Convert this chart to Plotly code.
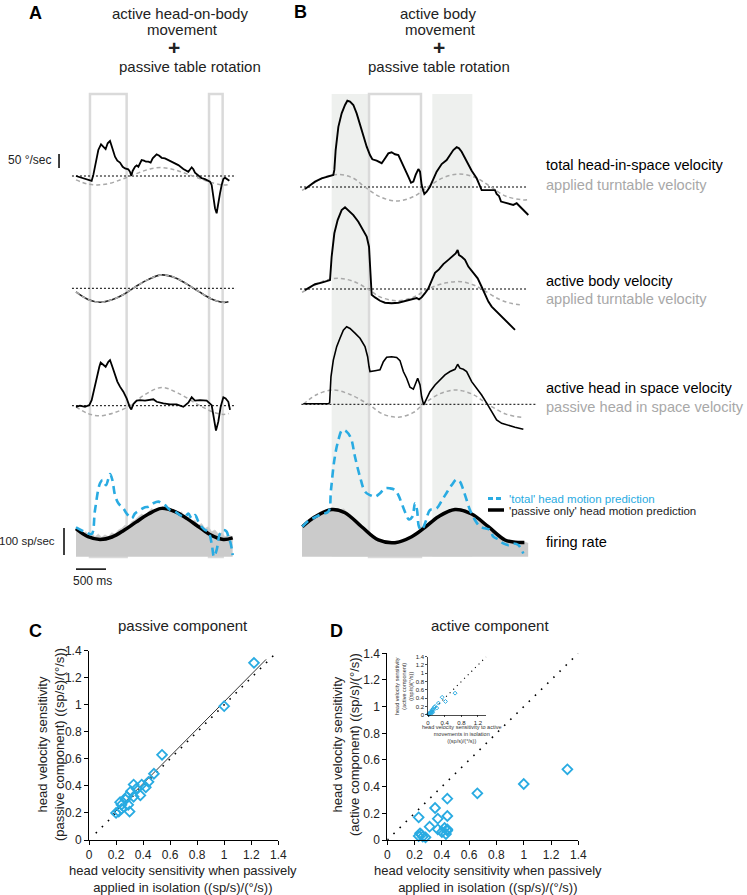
import plotly.graph_objects as go

W, H = 747, 895
FONT = "Liberation Sans, Arial, Helvetica, sans-serif"
BLUE = "#29abe2"
GREY_TXT = "#a8a8a8"
GREY_DASH = "#a9a9a9"
FILL = "#cbcbcb"
BOXLINE = "#dadada"
SHADE = "#eef0ee"

# ---------------- Panel A data (time ms, velocity deg/s, firing sp/s) ----------------
A_TOTAL_T = [0, 122, 206, 261, 289, 333, 372, 417, 456, 494, 528, 567, 606, 650, 689, 733, 778, 817, 872, 900,
             922, 944, 983, 1011, 1039, 1067, 1094, 1133, 1167, 1206, 1244, 1278, 1317, 1344, 1383, 1428, 1483,
             1539, 1622, 1706, 1789, 1872, 1928, 1956, 1983, 2039, 2094, 2150, 2189, 2233, 2261, 2289, 2317,
             2344, 2372, 2400, 2428, 2456, 2483, 2522, 2556]
A_TOTAL_V = [0, -8, -14, -17, 4, 57, 93, 113, 105, 96, 117, 125, 99, 69, 55, 48, 33, 27, 24, 15,
             1, 18, 33, 38, 33, 48, 57, 55, 51, 51, 48, 63, 71, 77, 73, 65, 63,
             57, 48, 39, 25, 15, 31, 24, 12, 0, -8, -11, -14, -20, -32, -74, -115,
             -133, -104, -62, -32, -11, -6, -12, -17]
A_TABLE1_T = [0, 180, 360, 550, 750, 900, 1100, 1250, 1410, 1570, 1720, 1920, 2100, 2300, 2460, 2560]
A_TABLE1_V = [-14, -28, -32, -27, -13, -1, 16, 26, 30, 26, 17, 2, -12, -26, -32, -30]
A_BODY_T = [0, 200, 400, 600, 800, 1000, 1200, 1428, 1650, 1850, 2050, 2250, 2456, 2540]
A_BODY_V = [-13, -40, -50, -41, -21, 7, 31, 48, 38, 15, -12, -37, -50, -48]
A_HEAD_T = [0, 67, 150, 222, 261, 300, 344, 389, 411, 456, 494, 539, 567, 606, 650, 689, 733, 789, 844, 872,
            900, 922, 956, 1011, 1067, 1150, 1233, 1289, 1344, 1456, 1567, 1678, 1789, 1872, 1928,
            1983, 2067, 2178, 2261, 2300, 2333, 2372, 2411, 2456, 2494, 2539, 2567]
A_HEAD_V = [-4, 0, -4, 2, 20, 56, 104, 139, 154, 145, 139, 157, 163, 139, 110, 86, 68, 50, 26, 8,
            -7, -13, 6, 18, 20, 18, 20, 23, 14, 8, 5, 5, -4, 11, 30,
            18, 20, 18, 2, -51, -89, -57, -4, 30, 26, 14, -15]
A_PHEAD_T = [0, 200, 400, 650, 900, 1150, 1430, 1700, 2067, 2300, 2456, 2550]
A_PHEAD_V = [-4, -28, -36, -24, 0, 40, 65, 45, 0, -24, -31, -28]
A_FR_T = [0, 39, 78, 122, 167, 206, 261, 317, 372, 428, 483, 539, 594, 650, 706, 761, 817, 872, 928, 983,
          1039, 1094, 1150, 1206, 1261, 1317, 1372, 1428, 1483, 1539, 1594, 1650, 1706, 1761, 1817,
          1872, 1928, 1983, 2039, 2094, 2150, 2206, 2261, 2317, 2372, 2428, 2483, 2539, 2611]
A_FR = [109, 86, 99, 84, 93, 77, 89, 74, 84, 72, 81, 74, 89, 84, 99, 105, 117, 111, 130, 136,
        148, 158, 151, 167, 179, 169, 183, 173, 179, 167, 175, 160, 154, 167, 142,
        148, 130, 136, 117, 123, 105, 111, 93, 99, 84, 89, 74, 80, 74]
A_PASS_T = [0, 200, 400, 600, 800, 1000, 1200, 1428, 1650, 1850, 2050, 2250, 2456, 2611]
A_PASS = [104, 74, 64, 73, 98, 128, 157, 179, 167, 141, 110, 80, 64, 70]
A_TOT_T = [0, 178, 261, 317, 400, 444, 500, 567, 606, 650, 706, 789, 844, 928, 983, 1067, 1150, 1206, 1289,
           1372, 1428, 1483, 1567, 1650, 1733, 1817, 1872, 1928, 1983, 2039, 2094, 2150, 2206, 2261,
           2300, 2344, 2400, 2456, 2511, 2539, 2578, 2611]
A_TOT = [109, 89, 84, 173, 272, 284, 265, 306, 284, 228, 198, 179, 160, 142, 160, 173, 183, 185, 198,
         204, 198, 191, 173, 167, 154, 148, 160, 142, 154, 130, 111, 99, 93, 49,
         0, 25, 86, 99, 93, 74, 49, 6]
A_BOXES = [[233, 844], [2217, 2444]]
A_BASE_T = [-67, 2667]

# ---------------- Panel B data ----------------
B_TOTAL_T = [50, 133, 217, 328, 439, 522, 539, 561, 606, 661, 717, 756, 800, 856, 911, 967, 1022, 1078, 1133,
             1172, 1244, 1328, 1383, 1439, 1494, 1550, 1606, 1661, 1717, 1772, 1817, 1856, 1894, 1939, 1967,
             1994, 2039, 2078, 2133, 2189, 2244, 2328, 2411, 2467, 2522, 2578, 2617, 2661, 2717, 2772,
             2828, 2911, 2956, 2994, 3078, 3161, 3217, 3244, 3283, 3317, 3383, 3467, 3522, 3578, 3633,
             3706, 3772]
B_TOTAL_V = [-7, 7, 19, 31, 37, 43, 61, 132, 215, 263, 293, 308, 305, 293, 263, 221, 180, 144, 114,
             99, 94, 85, 102, 120, 124, 117, 114, 90, 67, 37, 15, 19, 43, 64, 55,
             7, -25, -17, 1, 31, 55, 82, 96, 114, 132, 142, 138, 126, 102, 79,
             58, 31, 7, -11, -11, -11, -11, -25, -32, -52, -56, -61, -64, -58, -70,
             -85, -100]
B_TABLE1_T = [0, 100, 350, 600, 850, 1050, 1300, 1578, 1850, 2100, 2350, 2620, 2900, 3150, 3400, 3689, 3770]
B_TABLE1_V = [-12, 0, 33, 45, 32, 0, -35, -50, -35, 0, 33, 46, 33, 0, -33, -46, -45]
B_BODY_T = [50, 133, 217, 328, 439, 467, 494, 539, 594, 661, 717, 772, 856, 939, 1022, 1078, 1117, 1139,
            1161, 1217, 1300, 1383, 1494, 1606, 1717, 1828, 1911, 1950, 1994, 2050, 2106, 2161, 2217,
            2283, 2356, 2439, 2522, 2561, 2594, 2617, 2661, 2717, 2772, 2856, 2928, 2994, 3050, 3106,
            3161, 3217, 3300, 3383, 3470, 3550]
B_BODY_V = [-4, 8, 17, 23, 29, 32, 115, 199, 246, 282, 292, 282, 264, 240, 211, 187, 151, 44,
            -21, -30, -42, -49, -51, -49, -42, -37, -32, -37, -30, -15, 2, 30, 58,
            70, 89, 104, 118, 127, 139, 121, 115, 104, 80, 58, 38, 8, -21, -45,
            -63, -75, -92, -108, -128, -146]
B_TABLE2_T = [0, 100, 350, 600, 850, 1100, 1300, 1578, 1850, 2100, 2400, 2650, 2850, 2994, 3300, 3500, 3680]
B_TABLE2_V = [-12, 0, 28, 38, 28, 0, -28, -42, -30, 0, 22, 26, 15, 0, -38, -52, -57]
B_HEAD_T = [22, 217, 439, 461, 483, 522, 578, 633, 689, 744, 800, 883, 967, 1050, 1094, 1117, 1133, 1217,
            1300, 1356, 1411, 1494, 1578, 1633, 1689, 1744, 1800, 1856, 1894, 1928, 1967, 1994, 2028,
            2078, 2133, 2217, 2300, 2383, 2467, 2550, 2594, 2633, 2689, 2744, 2828, 2911, 2994, 3078,
            3161, 3244, 3328, 3439, 3550, 3689]
B_HEAD_V = [2, 2, 2, 6, 99, 158, 206, 236, 265, 277, 271, 254, 236, 206, 170, 135, 117, 120,
            123, 152, 168, 170, 167, 156, 117, 93, 61, 54, 73, 93, 69, 27, -2,
            21, 45, 69, 87, 105, 117, 125, 143, 129, 125, 117, 81, 57, 33, 4,
            -26, -56, -68, -76, -82, -89]
B_PHEAD_T = [22, 250, 522, 800, 1106, 1350, 1606, 1850, 2022, 2300, 2578, 2850, 3100, 3400, 3661, 3700]
B_PHEAD_V = [0, 35, 51, 35, 0, -35, -46, -30, 0, 38, 51, 35, 0, -35, -46, -46]
B_FR_T = [0, 100, 200, 300, 400, 500, 600, 700, 800, 900, 1000, 1100, 1200, 1300, 1400, 1500, 1600, 1700,
          1800, 1900, 2000, 2100, 2200, 2300, 2400, 2500, 2600, 2700, 2800, 2900, 3000, 3100, 3200,
          3300, 3400, 3500, 3600, 3700, 3770]
B_FR = [108, 125, 140, 160, 172, 180, 170, 178, 150, 135, 115, 92, 75, 62, 58, 55, 60, 55,
        68, 85, 100, 122, 140, 155, 168, 172, 175, 165, 158, 140, 125, 110, 90,
        75, 62, 58, 52, 55, 50]
B_PASS_T = [6, 217, 494, 717, 994, 1272, 1550, 1828, 2050, 2272, 2550, 2828, 3106, 3383, 3550, 3706]
B_PASS = [111, 148, 175, 163, 111, 62, 52, 74, 109, 148, 175, 158, 111, 62, 54, 53]
B_TOT_T = [6, 106, 217, 328, 439, 483, 539, 606, 672, 744, 817, 883, 967, 1050, 1133, 1217, 1300, 1383,
           1467, 1550, 1606, 1661, 1728, 1783, 1839, 1883, 1917, 1950, 1994, 2061, 2133, 2244, 2328,
           2411, 2494, 2578, 2633, 2689, 2744, 2800, 2883, 2967, 3050, 3133, 3189, 3272, 3356, 3439,
           3522, 3606, 3689]
B_TOT = [111, 133, 146, 158, 167, 247, 358, 432, 469, 463, 438, 370, 296, 241, 228, 222, 235, 253,
         253, 247, 228, 198, 160, 138, 148, 198, 173, 111, 99, 130, 173, 179, 207,
         237, 265, 286, 278, 247, 210, 173, 136, 111, 105, 99, 74, 64, 49, 43,
         49, 43, 12]
B_SHADES = [[494, 1117], [2172, 2839]]
B_BOXES = [[1117, 1983]]
B_BASE_T = [-33, 3750]
B_BASE3_T = [-10, 3890]

# ---------------- Panels C, D ----------------
C_X = [1.22, 1.00, 0.54, 0.48, 0.44, 0.42, 0.39, 0.38, 0.35, 0.33, 0.33, 0.31, 0.28, 0.27, 0.29, 0.30,
       0.24, 0.23, 0.22, 0.24, 0.20]
C_Y = [1.31, 0.99, 0.63, 0.49, 0.43, 0.39, 0.41, 0.33, 0.38, 0.41, 0.32, 0.36, 0.32, 0.30, 0.26, 0.21,
       0.26, 0.28, 0.21, 0.23, 0.20]
C_FIT_X = [0.17, 1.31]
C_FIT_Y = [0.185, 1.336]
C_UNITY = [0.05, 1.37]

D_X = [1.32, 1.00, 0.66, 0.44, 0.44, 0.35, 0.37, 0.31, 0.23, 0.37, 0.42, 0.44, 0.40, 0.43, 0.24, 0.25,
       0.26, 0.28, 0.23, 0.44]
D_Y = [0.53, 0.42, 0.35, 0.31, 0.18, 0.24, 0.16, 0.10, 0.17, 0.08, 0.09, 0.08, 0.06, 0.045, 0.05, 0.04,
       0.025, 0.02, 0.03, 0.07]
D_UNITY = [0.0, 1.4]

IN_X = [0.65, 0.42, 0.34, 0.25, 0.21, 0.17, 0.13, 0.12, 0.09, 0.08, 0.06, 0.05, 0.04, 0.03, 0.03, 0.02,
        0.02, 0.10, 0.15, 0.07, 0.11]
IN_Y = [0.52, 0.32, 0.42, 0.28, 0.16, 0.20, 0.14, 0.10, 0.08, 0.05, 0.06, 0.04, 0.03, 0.03, 0.01, 0.02,
        0.01, 0.12, 0.18, 0.07, 0.05]
IN_UNITY = [0.0, 1.4]

SCALE_VEL = 50      # deg/s
SCALE_FR = 100      # sp/s
SCALE_T = 500       # ms
MAIN_TICKS = [0, 0.2, 0.4, 0.6, 0.8, 1.0, 1.2, 1.4]
MAIN_TICKTEXT = ["0", "0.2", "0.4", "0.6", "0.8", "1", "1.2", "1.4"]
IN_XTICKS = [0, 0.4, 0.8, 1.2]
IN_XTICKTEXT = ["0", "0.4", "0.8", "1.2"]

# ---------------- layout geometry (pixels) ----------------
V_K = 0.28   # px per deg/s
R_K = 0.27   # px per sp/s
T_K = 0.06   # px per ms


def fx(p):
    return p / W


def fy(p):
    return 1 - p / H


fig = go.Figure()
layout = {}


def time_axis(name, left, right, t0, anchor):
    layout[name] = dict(domain=[fx(left), fx(right)], range=[(left - t0) / T_K, (right - t0) / T_K],
                        visible=False, anchor=anchor, fixedrange=True)


def band_axis(name, base, top, bot, k, anchor):
    layout[name] = dict(domain=[fy(bot), fy(top)], range=[(base - bot) / k, (base - top) / k],
                        visible=False, anchor=anchor, fixedrange=True)


time_axis("xaxis", 0, 245, 76, "y")
time_axis("xaxis2", 295, 542, 302, "y5")
band_axis("yaxis", 176, 88, 235, V_K, "x")
band_axis("yaxis2", 288.3, 230, 330, V_K, "x")
band_axis("yaxis3", 405.7, 330, 455, V_K, "x")
band_axis("yaxis4", 556.7, 455, 600, R_K, "x")
band_axis("yaxis5", 187, 88, 240, V_K, "x2")
band_axis("yaxis6", 289, 190, 345, V_K, "x2")
band_axis("yaxis7", 404.3, 315, 455, V_K, "x2")
band_axis("yaxis8", 556.7, 420, 600, R_K, "x2")


def add_line(t, v, xa, ya, color, width, dash=None, shape="linear"):
    fig.add_trace(go.Scatter(x=t, y=v, xaxis=xa, yaxis=ya, mode="lines",
                             line=dict(color=color, width=width, dash=dash, shape=shape),
                             hoverinfo="skip", showlegend=False))


def add_fill(t, v, xa, ya):
    fig.add_trace(go.Scatter(x=t, y=v, xaxis=xa, yaxis=ya, mode="lines", fill="tozeroy",
                             fillcolor=FILL, line=dict(color=FILL, width=0.5),
                             hoverinfo="skip", showlegend=False))


DOT = "2px,2px"
GDASH = "4px,3px"
BDASH = "8px,5px"

# Panel A traces
add_line(A_BASE_T, [0, 0], "x", "y", "black", 1, DOT)
add_line(A_TABLE1_T, A_TABLE1_V, "x", "y", GREY_DASH, 1.5, GDASH, "spline")
add_line(A_TOTAL_T, A_TOTAL_V, "x", "y", "black", 1.8)
add_line(A_BASE_T, [0, 0], "x", "y2", "black", 1, DOT)
add_line(A_BODY_T, A_BODY_V, "x", "y2", "#222222", 1.6, None, "spline")
add_line(A_BODY_T, A_BODY_V, "x", "y2", GREY_DASH, 1.6, GDASH, "spline")
add_line(A_BASE_T, [0, 0], "x", "y3", "black", 1, DOT)
add_line(A_PHEAD_T, A_PHEAD_V, "x", "y3", GREY_DASH, 1.5, GDASH, "spline")
add_line(A_HEAD_T, A_HEAD_V, "x", "y3", "black", 1.8)
add_fill(A_FR_T, A_FR, "x", "y4")
add_line(A_PASS_T, A_PASS, "x", "y4", "black", 3.5, None, "spline")
add_line(A_TOT_T, A_TOT, "x", "y4", BLUE, 2.6, BDASH, "spline")
# scale bars
add_line([-283, -283], [29, 29 + SCALE_VEL], "x", "y", "black", 1.5)
add_line([-200, -200], [6, 6 + SCALE_FR], "x", "y4", "black", 1.5)
add_line([0, SCALE_T], [-46, -46], "x", "y4", "black", 1.5)

# Panel B traces
add_line(B_BASE_T, [0, 0], "x2", "y5", "black", 1, DOT)
add_line(B_TABLE1_T, B_TABLE1_V, "x2", "y5", GREY_DASH, 1.5, GDASH, "spline")
add_line(B_TOTAL_T, B_TOTAL_V, "x2", "y5", "black", 1.9)
add_line(B_BASE_T, [0, 0], "x2", "y6", "black", 1, DOT)
add_line(B_TABLE2_T, B_TABLE2_V, "x2", "y6", GREY_DASH, 1.5, GDASH, "spline")
add_line(B_BODY_T, B_BODY_V, "x2", "y6", "black", 1.9)
add_line(B_BASE3_T, [0, 0], "x2", "y7", "black", 1, DOT)
add_line(B_PHEAD_T, B_PHEAD_V, "x2", "y7", GREY_DASH, 1.5, GDASH, "spline")
add_line(B_HEAD_T, B_HEAD_V, "x2", "y7", "black", 1.6)
add_fill(B_FR_T, B_FR, "x2", "y8")
add_line(B_PASS_T, B_PASS, "x2", "y8", "black", 3.5, None, "spline")
add_line(B_TOT_T, B_TOT, "x2", "y8", BLUE, 2.6, BDASH, "spline")


# ---------------- scatter panels ----------------
def sc_axis(name, p0, p1, anchor, horizontal, ticks, ticktext, size, ticklen=4, lw=1):
    # p0 = pixel of value 0, p1 = pixel of value 1.4
    dom = [fx(p0), fx(p1)] if horizontal else [fy(p0), fy(p1)]
    layout[name] = dict(domain=dom, range=[0, 1.4], anchor=anchor, showline=True, linecolor="black",
                        linewidth=lw, ticks="outside", ticklen=ticklen, tickcolor="black", tickwidth=lw,
                        tickvals=ticks, ticktext=ticktext, showgrid=False, zeroline=False,
                        tickfont=dict(family=FONT, size=size, color="#222"), fixedrange=True)


sc_axis("xaxis3", 89, 278.3, "y9", True, MAIN_TICKS, MAIN_TICKTEXT, 12)
sc_axis("yaxis9", 840, 650.7, "x3", False, MAIN_TICKS, MAIN_TICKTEXT, 12)
sc_axis("xaxis4", 387.3, 578.3, "y10", True, MAIN_TICKS, MAIN_TICKTEXT, 12)
sc_axis("yaxis10", 840, 653.3, "x4", False, MAIN_TICKS, MAIN_TICKTEXT, 12)
sc_axis("xaxis5", 428, 486.3, "y11", True, IN_XTICKS, IN_XTICKTEXT, 6, 2, 0.7)
sc_axis("yaxis11", 714.7, 656.7, "x5", False, MAIN_TICKS, MAIN_TICKTEXT, 6, 2, 0.7)

UDASH = "1.6px,7px"
add_line(C_UNITY, C_UNITY, "x3", "y9", "black", 1.6, UDASH)
add_line(C_FIT_X, C_FIT_Y, "x3", "y9", "#333333", 1)
add_line(D_UNITY, D_UNITY, "x4", "y10", "black", 1.6, UDASH)
add_line(IN_UNITY, IN_UNITY, "x5", "y11", "black", 1.1, "1.1px,4px")


def add_pts(x, y, xa, ya, size, lw):
    fig.add_trace(go.Scatter(x=x, y=y, xaxis=xa, yaxis=ya, mode="markers", cliponaxis=False,
                             marker=dict(symbol="diamond-open", size=size, color=BLUE,
                                         line=dict(color=BLUE, width=lw)),
                             hoverinfo="skip", showlegend=False))


add_pts(C_X, C_Y, "x3", "y9", 7.5, 1.8)
add_pts(D_X, D_Y, "x4", "y10", 7.5, 1.8)
add_pts(IN_X, IN_Y, "x5", "y11", 3, 1)

# ---------------- shapes ----------------
shapes = []
for t0, t1 in A_BOXES:
    shapes.append(dict(type="rect", xref="x", yref="paper", x0=t0, x1=t1, y0=fy(557), y1=fy(94),
                       line=dict(color=BOXLINE, width=2.5), fillcolor="rgba(0,0,0,0)", layer="below"))
for t0, t1 in B_SHADES:
    shapes.append(dict(type="rect", xref="x2", yref="paper", x0=t0, x1=t1, y0=fy(557), y1=fy(94),
                       line=dict(width=0), fillcolor=SHADE, layer="below"))
for t0, t1 in B_BOXES:
    shapes.append(dict(type="rect", xref="x2", yref="paper", x0=t0, x1=t1, y0=fy(557), y1=fy(94),
                       line=dict(color=BOXLINE, width=2.5), fillcolor="rgba(0,0,0,0)", layer="below"))
# legend samples
shapes.append(dict(type="line", xref="paper", yref="paper", x0=fx(488), x1=fx(504), y0=fy(498.5), y1=fy(498.5),
                   line=dict(color=BLUE, width=3, dash="5px,3px")))
shapes.append(dict(type="line", xref="paper", yref="paper", x0=fx(488), x1=fx(504), y0=fy(510), y1=fy(510),
                   line=dict(color="black", width=3.5)))

# ---------------- annotations ----------------
ann = []


def txt(x, y, s, size, color="black", xanchor="center", bold=False, angle=0):
    if bold:
        s = "<b>" + s + "</b>"
    ann.append(dict(x=fx(x), y=fy(y), xref="paper", yref="paper", text=s, showarrow=False,
                    xanchor=xanchor, yanchor="middle", textangle=angle,
                    font=dict(family=FONT, size=size, color=color)))


txt(35, 13, "A", 18, bold=True)
txt(300, 12, "B", 18, bold=True)
txt(35, 631, "C", 18, bold=True)
txt(336, 631, "D", 18, bold=True)

txt(180, 13, "active head-on-body", 15, "#222")
txt(182, 29, "movement", 15, "#222")
txt(174, 48, "+", 21, "#222", bold=True)
txt(190, 67, "passive table rotation", 15, "#222")
txt(438, 13, "active body", 15, "#222")
txt(440, 29, "movement", 15, "#222")
txt(439, 48, "+", 21, "#222", bold=True)
txt(439, 67, "passive table rotation", 15, "#222")

RL = 14.6
txt(544, 165, "total head-in-space velocity", RL, "black", "left")
txt(544, 185, "applied turntable velocity", RL, GREY_TXT, "left")
txt(544, 281, "active body velocity", RL, "black", "left")
txt(544, 299, "applied turntable velocity", RL, GREY_TXT, "left")
txt(544, 388, "active head in space velocity", RL, "black", "left")
txt(544, 407, "passive head in space velocity", RL, GREY_TXT, "left")
txt(507, 498.5, "'total' head motion prediction", 11.5, BLUE, "left")
txt(507, 510.5, "'passive only' head motion prediction", 11.5, "#222", "left")
txt(544, 542, "firing rate", RL, "black", "left")

txt(54, 160, "50 °/sec", 12, "#222", "right")
txt(57, 541, "100 sp/sec", 11.5, "#222", "right")
txt(92, 581, "500 ms", 12, "#222")

txt(183, 625, "passive component", 15, "#222")
txt(490, 625, "active component", 15, "#222")
txt(51, 745, "head velocity sensitivity<br>(passive component) ((sp/s)/(°/s))", 13, "#222", angle=-90)
txt(346, 745, "head velocity sensitivity<br>(active component) ((sp/s)/(°/s))", 13, "#222", angle=-90)
txt(183, 879, "head velocity sensitivity when passively<br>applied in isolation ((sp/s)/(°/s))", 13, "#222")
txt(488, 879, "head velocity sensitivity when passively<br>applied in isolation ((sp/s)/(°/s))", 13, "#222")
txt(404, 686, "head velocity sensitivity<br>(active component)<br>((sp/s)/(°/s))", 5.5, "#333", angle=-90)
txt(461, 734, "head velocity sensitivity to active<br>movements in isolation<br>((sp/s)/(°/s))", 5.5, "#333")

fig.update_layout(**layout)
fig.update_layout(width=W, height=H, autosize=False, margin=dict(l=0, r=0, t=0, b=0),
                  paper_bgcolor="white", plot_bgcolor="rgba(0,0,0,0)", template="none",
                  showlegend=False, shapes=shapes, annotations=ann, font=dict(family=FONT))

fig.write_html("out.html", config={"displayModeBar": False, "staticPlot": True},
               post_script="document.body.style.margin='0';document.body.style.overflow='hidden';")
